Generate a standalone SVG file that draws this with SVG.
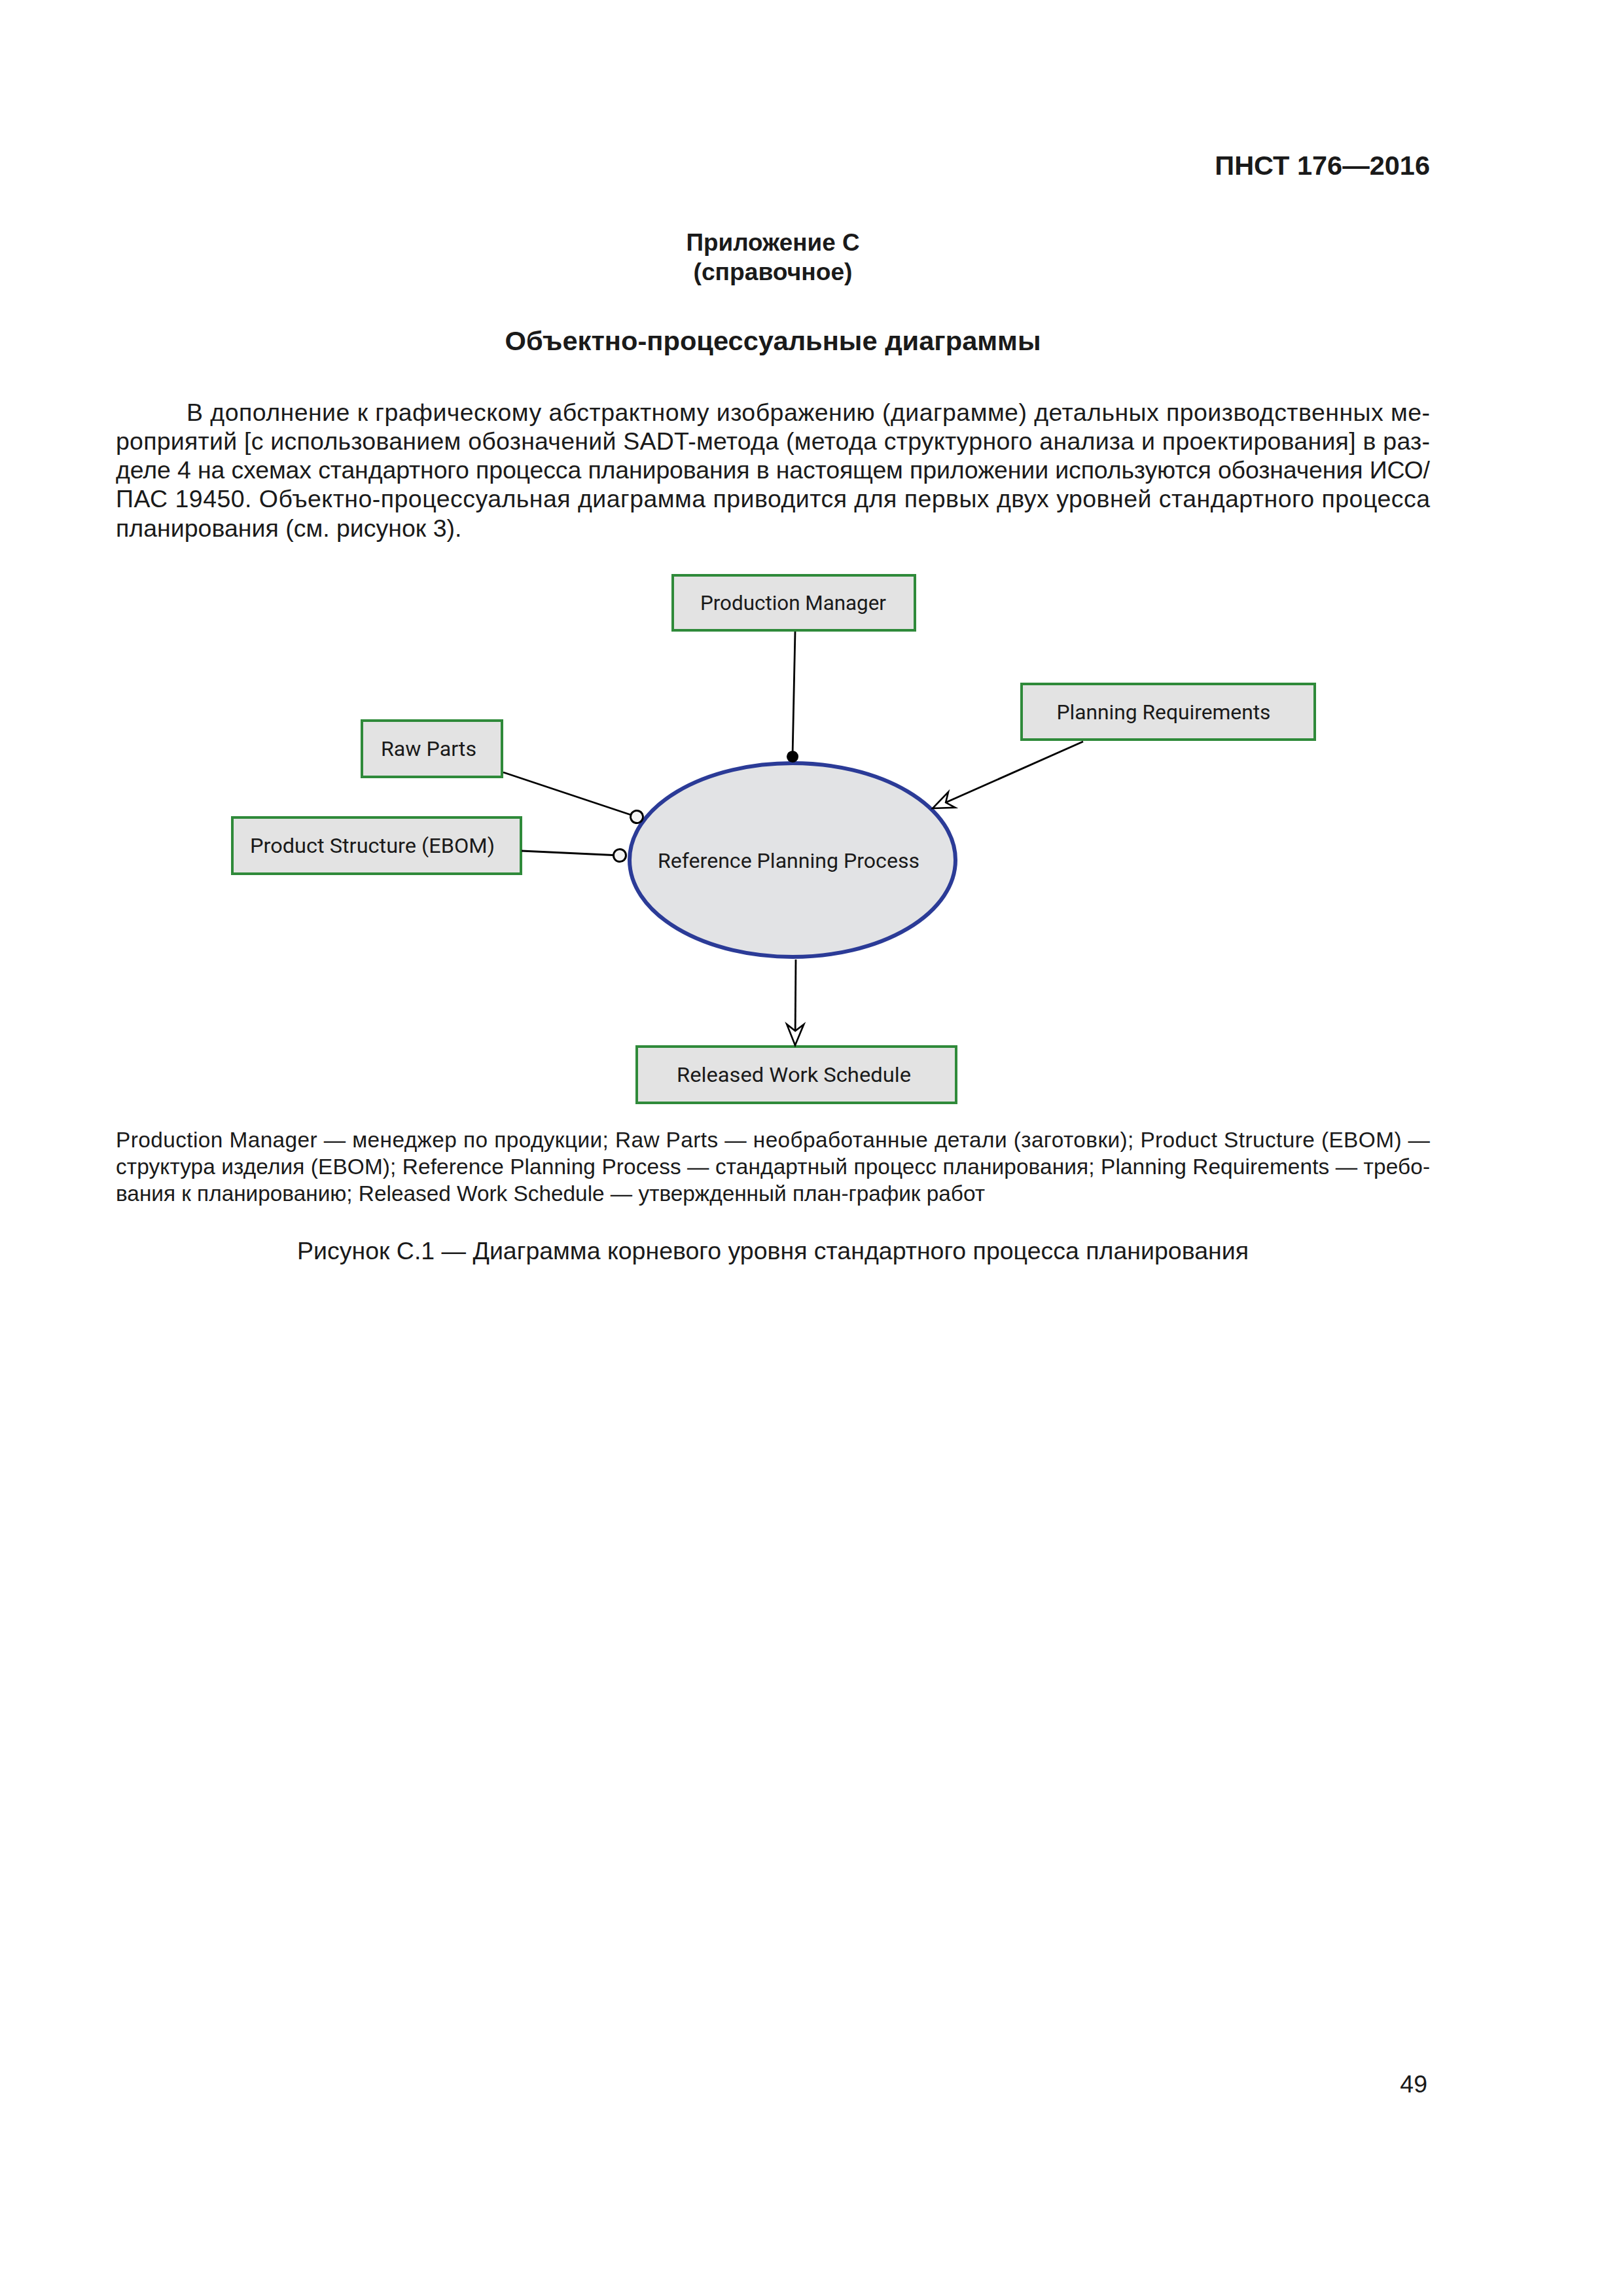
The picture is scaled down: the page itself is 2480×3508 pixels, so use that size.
<svg xmlns="http://www.w3.org/2000/svg" width="2480" height="3508" viewBox="0 0 2480 3508">
<style>
.doc{font-family:"Liberation Sans",Arial,sans-serif;fill:#1a1a1a}
.b{font-weight:bold}
.body{font-size:37.5px}
.leg{font-size:33.4px}
.box{fill:#e3e3e3;stroke:#2f8a3a;stroke-width:4}
.lbl{font-family:Roboto,"Liberation Sans",sans-serif;font-size:32px;fill:#1a1a1a;text-anchor:middle}
.conn{fill:none;stroke:#000;stroke-width:2.8}
</style>
<defs>
<marker id="arrow" markerUnits="userSpaceOnUse" viewBox="-36 -18 40 36" markerWidth="40" markerHeight="36" refX="0" refY="0" orient="auto">
<path d="M0,0 L-32,-13 L-22,0 L-32,13 Z" fill="#fff" stroke="#000" stroke-width="2.6" stroke-linejoin="miter"/>
</marker>
<marker id="dot" markerUnits="userSpaceOnUse" viewBox="-12 -12 24 24" markerWidth="24" markerHeight="24" refX="0" refY="0" orient="auto">
<circle cx="0" cy="0" r="9" fill="#000"/>
</marker>
<marker id="odot" markerUnits="userSpaceOnUse" viewBox="-14 -14 28 28" markerWidth="28" markerHeight="28" refX="0" refY="0" orient="auto">
<circle cx="0" cy="0" r="9.5" fill="#f4f4f4" stroke="#000" stroke-width="3"/>
</marker>
</defs>
<rect width="2480" height="3508" fill="#fff"/>

<g id="page-text" class="doc">
<text x="2185" y="267" class="b" font-size="41.5" text-anchor="end">ПНСТ 176—2016</text>
<text x="1181" y="383" class="b" font-size="37.5" text-anchor="middle" textLength="265" lengthAdjust="spacingAndGlyphs">Приложение С</text>
<text x="1181" y="428" class="b" font-size="37.5" text-anchor="middle" textLength="243" lengthAdjust="spacingAndGlyphs">(справочное)</text>
<text x="1181" y="535" class="b" font-size="41.5" text-anchor="middle" textLength="819" lengthAdjust="spacingAndGlyphs">Объектно-процессуальные диаграммы</text>
<text x="285" y="643" class="body" textLength="1900" lengthAdjust="spacing">В дополнение к графическому абстрактному изображению (диаграмме) детальных производственных ме-</text>
<text x="177" y="687" class="body" textLength="2008" lengthAdjust="spacing">роприятий [с использованием обозначений SADT-метода (метода структурного анализа и проектирования] в раз-</text>
<text x="177" y="731" class="body" textLength="2008" lengthAdjust="spacing">деле 4 на схемах стандартного процесса планирования в настоящем приложении используются обозначения ИСО/</text>
<text x="177" y="775" class="body" textLength="2008" lengthAdjust="spacing">ПАС 19450. Объектно-процессуальная диаграмма приводится для первых двух уровней стандартного процесса</text>
<text x="177" y="820" class="body">планирования (см. рисунок 3).</text>
<text x="177" y="1753" class="leg" textLength="2008" lengthAdjust="spacing">Production Manager — менеджер по продукции; Raw Parts — необработанные детали (заготовки); Product Structure (EBOM) —</text>
<text x="177" y="1794" class="leg" textLength="2008" lengthAdjust="spacing">структура изделия (EBOM); Reference Planning Process — стандартный процесс планирования; Planning Requirements — требо-</text>
<text x="177" y="1835" class="leg" textLength="1328" lengthAdjust="spacing">вания к планированию; Released Work Schedule — утвержденный план-график работ</text>
<text x="1181" y="1924" class="body" text-anchor="middle" textLength="1454" lengthAdjust="spacing">Рисунок С.1 — Диаграмма корневого уровня стандартного процесса планирования</text>
<text x="2181" y="3197" class="body" text-anchor="end">49</text>
</g>

<g id="node-production-manager">
<rect class="box" x="1028" y="879" width="370" height="84"/>
<text class="lbl" x="1212" y="932" textLength="284" lengthAdjust="spacingAndGlyphs">Production Manager</text>
</g>
<g id="node-planning-requirements">
<rect class="box" x="1561" y="1045" width="448" height="85"/>
<text class="lbl" x="1778" y="1099" textLength="327" lengthAdjust="spacingAndGlyphs">Planning Requirements</text>
</g>
<g id="node-raw-parts">
<rect class="box" x="553" y="1101" width="214" height="86"/>
<text class="lbl" x="655" y="1155" textLength="146" lengthAdjust="spacingAndGlyphs">Raw Parts</text>
</g>
<g id="node-product-structure">
<rect class="box" x="355" y="1249" width="441" height="86"/>
<text class="lbl" x="569" y="1303" textLength="374" lengthAdjust="spacingAndGlyphs">Product Structure (EBOM)</text>
</g>
<g id="node-reference-planning-process">
<ellipse cx="1211" cy="1314" rx="249" ry="148" fill="#e2e3e5" stroke="#2b3b97" stroke-width="6"/>
<text class="lbl" x="1205" y="1326" textLength="400" lengthAdjust="spacingAndGlyphs">Reference Planning Process</text>
</g>
<g id="node-released-work-schedule">
<rect class="box" x="973" y="1599" width="488" height="86"/>
<text class="lbl" x="1213" y="1653" textLength="358" lengthAdjust="spacingAndGlyphs">Released Work Schedule</text>
</g>

<g id="connectors">
<path class="conn" d="M1215,965 L1211,1156" marker-end="url(#dot)"/>
<path class="conn" d="M769,1180 L973,1248" marker-end="url(#odot)"/>
<path class="conn" d="M797,1300 L947,1307" marker-end="url(#odot)"/>
<path class="conn" d="M1655,1133 L1425,1235" marker-end="url(#arrow)"/>
<path class="conn" d="M1216,1466 L1215,1597" marker-end="url(#arrow)"/>
</g>
</svg>
